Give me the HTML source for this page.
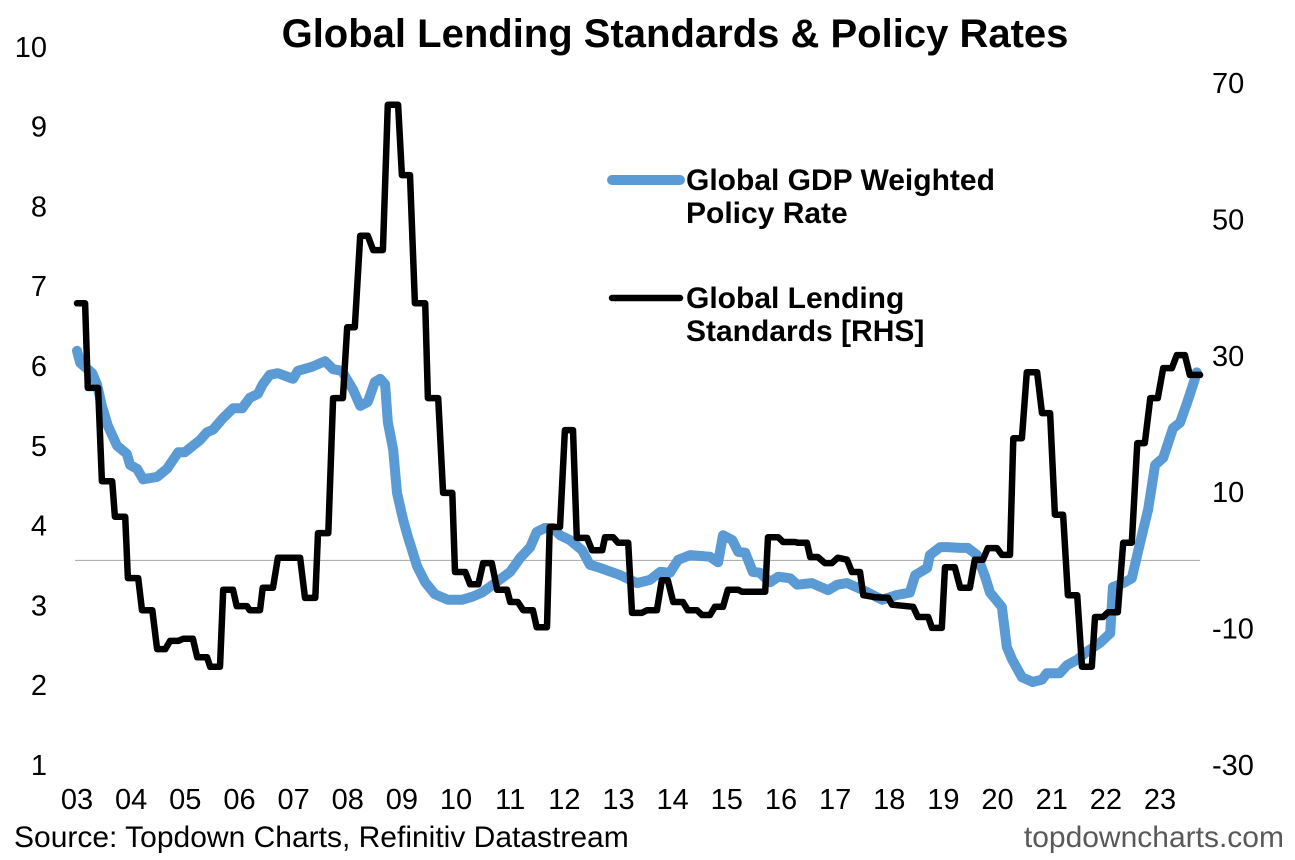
<!DOCTYPE html>
<html><head><meta charset="utf-8">
<style>
html,body{margin:0;padding:0;background:#fff;}
svg{display:block;font-family:"Liberation Sans",Arial,sans-serif;}
</style></head>
<body>
<svg id="chart" width="1295" height="860" viewBox="0 0 1295 860">
<rect width="1295" height="860" fill="#fff"/>
<text x="675" y="47" text-anchor="middle" font-size="40" font-weight="bold" fill="#000">Global Lending Standards &amp; Policy Rates</text>
<g id="leftTicks"></g>
<g id="rightTicks"></g>
<g id="xTicks"></g>
<line id="zeroLine" x1="75" x2="1200" stroke="#a6a6a6" stroke-width="1"/>
<path id="policyLine" fill="none" stroke="#5b9bd5" stroke-width="10" stroke-linejoin="round" stroke-linecap="round"/>
<path id="lendingLine" fill="none" stroke="#000" stroke-width="6.5" stroke-linejoin="round" stroke-linecap="round"/>
<g>
<line x1="612" y1="180" x2="680" y2="180" stroke="#5b9bd5" stroke-width="10" stroke-linecap="round"/>
<text x="686" y="190" font-size="30" font-weight="bold"><tspan x="686">Global GDP Weighted</tspan><tspan x="686" dy="33">Policy Rate</tspan></text>
<line x1="612" y1="298" x2="680" y2="298" stroke="#000" stroke-width="6.5" stroke-linecap="round"/>
<text x="686" y="308" font-size="30" font-weight="bold"><tspan x="686">Global Lending</tspan><tspan x="686" dy="33">Standards [RHS]</tspan></text>
</g>
<text x="14" y="847" font-size="30" fill="#000">Source: Topdown Charts, Refinitiv Datastream</text>
<text x="1284" y="847" font-size="30" fill="#595959" text-anchor="end">topdowncharts.com</text>
</svg>
<script>
const leftTickValues=[1,2,3,4,5,6,7,8,9,10];
const rightTickValues=[-30,-10,10,30,50,70];
const xTickLabels=["03","04","05","06","07","08","09","10","11","12","13","14","15","16","17","18","19","20","21","22","23"];
// years since 2003
const policyT=[0,0.06,0.28,0.37,0.46,0.57,0.74,0.92,0.98,1.11,1.22,1.48,1.66,1.87,1.99,2.27,2.40,2.51,2.70,2.88,3.05,3.19,3.34,3.43,3.56,3.71,3.99,4.08,4.34,4.58,4.73,4.89,5.10,5.23,5.37,5.50,5.60,5.69,5.74,5.84,5.91,6.02,6.11,6.28,6.43,6.61,6.85,7.11,7.31,7.48,7.68,8.00,8.18,8.37,8.49,8.64,8.79,8.92,9.10,9.33,9.47,9.66,10.03,10.34,10.58,10.77,10.95,11.10,11.32,11.69,11.84,11.93,12.10,12.21,12.34,12.48,12.61,12.80,12.95,13.17,13.30,13.57,13.87,14.04,14.22,14.52,14.87,15.14,15.38,15.48,15.70,15.75,15.94,16.08,16.31,16.45,16.62,16.77,16.86,17.08,17.17,17.27,17.45,17.65,17.82,17.91,18.15,18.28,18.47,18.65,18.89,19.08,19.13,19.32,19.48,19.63,19.78,19.91,20.06,20.24,20.37,20.50,20.65,20.68];
const policyValues=[6.19,6.04,5.91,5.77,5.50,5.25,5.00,4.90,4.76,4.71,4.58,4.61,4.71,4.92,4.92,5.07,5.17,5.20,5.35,5.47,5.47,5.60,5.65,5.77,5.89,5.91,5.84,5.94,5.99,6.06,5.96,5.94,5.70,5.50,5.55,5.80,5.84,5.77,5.30,4.95,4.41,4.08,3.86,3.49,3.29,3.14,3.07,3.07,3.11,3.16,3.26,3.42,3.59,3.73,3.92,3.97,3.97,3.88,3.82,3.69,3.51,3.47,3.38,3.28,3.32,3.42,3.41,3.57,3.63,3.61,3.54,3.88,3.82,3.67,3.66,3.42,3.41,3.29,3.36,3.34,3.26,3.28,3.19,3.26,3.28,3.19,3.07,3.13,3.16,3.38,3.47,3.63,3.73,3.73,3.72,3.72,3.63,3.36,3.16,2.98,2.48,2.32,2.10,2.04,2.07,2.15,2.15,2.25,2.32,2.42,2.53,2.65,3.23,3.28,3.34,3.78,4.20,4.76,4.85,5.22,5.29,5.54,5.85,5.92];
const lendingT=[0,0.15,0.20,0.39,0.46,0.65,0.70,0.89,0.94,1.13,1.20,1.39,1.48,1.63,1.72,1.87,1.96,2.14,2.22,2.40,2.46,2.64,2.70,2.88,2.95,3.14,3.19,3.38,3.43,3.62,3.71,4.12,4.21,4.40,4.45,4.64,4.73,4.91,4.99,5.13,5.23,5.37,5.47,5.65,5.74,5.93,6.00,6.15,6.24,6.43,6.48,6.67,6.76,6.93,6.98,7.17,7.26,7.41,7.50,7.66,7.76,7.94,8.00,8.14,8.24,8.42,8.49,8.68,8.73,8.92,9.01,9.16,9.23,9.42,9.51,9.70,9.75,9.90,9.99,10.18,10.25,10.43,10.53,10.71,10.80,10.91,11.01,11.19,11.28,11.45,11.54,11.69,11.78,11.93,12.02,12.21,12.28,12.71,12.76,12.95,13.04,13.26,13.31,13.48,13.54,13.68,13.81,13.94,14.05,14.22,14.31,14.46,14.52,14.74,14.98,15.05,15.44,15.53,15.72,15.79,15.97,16.03,16.21,16.31,16.49,16.58,16.73,16.82,16.99,17.08,17.23,17.29,17.45,17.54,17.73,17.82,17.97,18.06,18.21,18.30,18.47,18.56,18.74,18.80,18.95,19.04,19.22,19.32,19.48,19.58,19.72,19.82,19.96,20.06,20.22,20.31,20.46,20.55,20.74];
const lendingValues=[37.7,37.7,25.3,25.3,11.6,11.6,6.4,6.4,-2.6,-2.6,-7.3,-7.3,-13.0,-13.0,-11.8,-11.8,-11.5,-11.5,-14.2,-14.2,-15.6,-15.6,-4.3,-4.3,-6.7,-6.7,-7.3,-7.3,-4.0,-4.0,0.4,0.4,-5.5,-5.5,4.0,4.0,23.8,23.8,34.2,34.2,47.6,47.6,45.5,45.5,66.8,66.8,56.5,56.5,37.7,37.7,23.8,23.8,9.9,9.9,-1.7,-1.7,-3.5,-3.5,-0.4,-0.4,-4.3,-4.3,-6.1,-6.1,-7.3,-7.3,-9.8,-9.8,4.9,4.9,19.1,19.1,3.3,3.3,1.5,1.5,3.4,3.4,2.6,2.6,-7.7,-7.7,-7.3,-7.3,-2.9,-2.9,-6.1,-6.1,-7.3,-7.3,-8.0,-8.0,-6.8,-6.8,-4.3,-4.3,-4.6,-4.6,3.4,3.4,2.7,2.7,2.6,2.6,0.5,0.5,-0.4,-0.4,0.4,0.1,-1.7,-1.7,-5.1,-5.4,-5.5,-6.5,-6.8,-8.3,-8.3,-9.9,-9.9,-1.0,-1.0,-4.0,-4.0,0.1,0.1,1.8,1.8,0.8,0.8,17.9,17.9,27.6,27.6,21.6,21.6,6.7,6.7,-5.1,-5.1,-15.6,-15.6,-8.3,-8.3,-7.6,-7.6,2.6,2.6,17.2,17.2,23.8,23.8,28.2,28.2,30.1,30.1,27.2,27.2];

const NS="http://www.w3.org/2000/svg";
function xScale(t){return 77+t*54.15;}
function yLeft(v){return 765-(v-1)*79.8;}
function yRight(v){return 765-(v+30)*6.82;}
function mk(tag,attrs,parent,txt){const e=document.createElementNS(NS,tag);for(const k in attrs)e.setAttribute(k,attrs[k]);if(txt!==undefined)e.textContent=txt;parent.appendChild(e);return e;}

const lg=document.getElementById('leftTicks');
leftTickValues.forEach(v=>{
  const t=mk('text',{x:47,y:yLeft(v)+10,'text-anchor':'end','font-size':29},lg,String(v));
  
  
});
const rg=document.getElementById('rightTicks');
rightTickValues.forEach(v=>{
  const t=mk('text',{x:1212,y:yRight(v)+10,'text-anchor':'start','font-size':29},rg,String(v));
  
  
});
const xg=document.getElementById('xTicks');
xTickLabels.forEach((l,i)=>{
  const t=mk('text',{x:xScale(i),y:809,'text-anchor':'middle','font-size':29},xg,l);
  
  
});
const z=document.getElementById('zeroLine');
z.setAttribute('y1',yRight(0));z.setAttribute('y2',yRight(0));

function pathFrom(ts,vs,ys){return ts.map((t,i)=>(i?'L':'M')+xScale(t).toFixed(1)+','+ys(vs[i]).toFixed(1)).join(' ');}
document.getElementById('policyLine').setAttribute('d',pathFrom(policyT,policyValues,yLeft));
document.getElementById('lendingLine').setAttribute('d',pathFrom(lendingT,lendingValues,yRight));
</script>
</body></html>
